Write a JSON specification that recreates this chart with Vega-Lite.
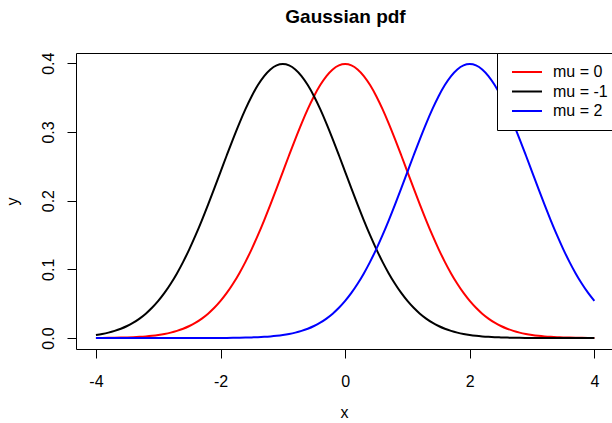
{
  "$schema": "https://vega.github.io/schema/vega-lite/v6.json",
  "autosize": {"type": "none"},
  "padding": {"left": 76, "top": 53, "right": 0, "bottom": 74},
  "width": 536,
  "height": 296,
  "background": "white",
  "title": {"text": "Gaussian pdf", "font": "Liberation Sans", "fontSize": 19, "fontWeight": "bold", "color": "black", "anchor": "middle", "baseline": "alphabetic", "offset": 10, "dx": 1.5},
  "data": {"values": [
    {"x": -4, "y": 0.000134, "s": "mu = 0"},
    {"x": -3.9, "y": 0.000199, "s": "mu = 0"},
    {"x": -3.8, "y": 0.000292, "s": "mu = 0"},
    {"x": -3.7, "y": 0.000425, "s": "mu = 0"},
    {"x": -3.6, "y": 0.000612, "s": "mu = 0"},
    {"x": -3.5, "y": 0.000873, "s": "mu = 0"},
    {"x": -3.4, "y": 0.001232, "s": "mu = 0"},
    {"x": -3.3, "y": 0.001723, "s": "mu = 0"},
    {"x": -3.2, "y": 0.002384, "s": "mu = 0"},
    {"x": -3.1, "y": 0.003267, "s": "mu = 0"},
    {"x": -3, "y": 0.004432, "s": "mu = 0"},
    {"x": -2.9, "y": 0.005953, "s": "mu = 0"},
    {"x": -2.8, "y": 0.007915, "s": "mu = 0"},
    {"x": -2.7, "y": 0.010421, "s": "mu = 0"},
    {"x": -2.6, "y": 0.013583, "s": "mu = 0"},
    {"x": -2.5, "y": 0.017528, "s": "mu = 0"},
    {"x": -2.4, "y": 0.022395, "s": "mu = 0"},
    {"x": -2.3, "y": 0.028327, "s": "mu = 0"},
    {"x": -2.2, "y": 0.035475, "s": "mu = 0"},
    {"x": -2.1, "y": 0.043984, "s": "mu = 0"},
    {"x": -2, "y": 0.053991, "s": "mu = 0"},
    {"x": -1.9, "y": 0.065616, "s": "mu = 0"},
    {"x": -1.8, "y": 0.07895, "s": "mu = 0"},
    {"x": -1.7, "y": 0.094049, "s": "mu = 0"},
    {"x": -1.6, "y": 0.110921, "s": "mu = 0"},
    {"x": -1.5, "y": 0.129518, "s": "mu = 0"},
    {"x": -1.4, "y": 0.149727, "s": "mu = 0"},
    {"x": -1.3, "y": 0.171369, "s": "mu = 0"},
    {"x": -1.2, "y": 0.194186, "s": "mu = 0"},
    {"x": -1.1, "y": 0.217852, "s": "mu = 0"},
    {"x": -1, "y": 0.241971, "s": "mu = 0"},
    {"x": -0.9, "y": 0.266085, "s": "mu = 0"},
    {"x": -0.8, "y": 0.289692, "s": "mu = 0"},
    {"x": -0.7, "y": 0.312254, "s": "mu = 0"},
    {"x": -0.6, "y": 0.333225, "s": "mu = 0"},
    {"x": -0.5, "y": 0.352065, "s": "mu = 0"},
    {"x": -0.4, "y": 0.36827, "s": "mu = 0"},
    {"x": -0.3, "y": 0.381388, "s": "mu = 0"},
    {"x": -0.2, "y": 0.391043, "s": "mu = 0"},
    {"x": -0.1, "y": 0.396953, "s": "mu = 0"},
    {"x": 0, "y": 0.398942, "s": "mu = 0"},
    {"x": 0.1, "y": 0.396953, "s": "mu = 0"},
    {"x": 0.2, "y": 0.391043, "s": "mu = 0"},
    {"x": 0.3, "y": 0.381388, "s": "mu = 0"},
    {"x": 0.4, "y": 0.36827, "s": "mu = 0"},
    {"x": 0.5, "y": 0.352065, "s": "mu = 0"},
    {"x": 0.6, "y": 0.333225, "s": "mu = 0"},
    {"x": 0.7, "y": 0.312254, "s": "mu = 0"},
    {"x": 0.8, "y": 0.289692, "s": "mu = 0"},
    {"x": 0.9, "y": 0.266085, "s": "mu = 0"},
    {"x": 1, "y": 0.241971, "s": "mu = 0"},
    {"x": 1.1, "y": 0.217852, "s": "mu = 0"},
    {"x": 1.2, "y": 0.194186, "s": "mu = 0"},
    {"x": 1.3, "y": 0.171369, "s": "mu = 0"},
    {"x": 1.4, "y": 0.149727, "s": "mu = 0"},
    {"x": 1.5, "y": 0.129518, "s": "mu = 0"},
    {"x": 1.6, "y": 0.110921, "s": "mu = 0"},
    {"x": 1.7, "y": 0.094049, "s": "mu = 0"},
    {"x": 1.8, "y": 0.07895, "s": "mu = 0"},
    {"x": 1.9, "y": 0.065616, "s": "mu = 0"},
    {"x": 2, "y": 0.053991, "s": "mu = 0"},
    {"x": 2.1, "y": 0.043984, "s": "mu = 0"},
    {"x": 2.2, "y": 0.035475, "s": "mu = 0"},
    {"x": 2.3, "y": 0.028327, "s": "mu = 0"},
    {"x": 2.4, "y": 0.022395, "s": "mu = 0"},
    {"x": 2.5, "y": 0.017528, "s": "mu = 0"},
    {"x": 2.6, "y": 0.013583, "s": "mu = 0"},
    {"x": 2.7, "y": 0.010421, "s": "mu = 0"},
    {"x": 2.8, "y": 0.007915, "s": "mu = 0"},
    {"x": 2.9, "y": 0.005953, "s": "mu = 0"},
    {"x": 3, "y": 0.004432, "s": "mu = 0"},
    {"x": 3.1, "y": 0.003267, "s": "mu = 0"},
    {"x": 3.2, "y": 0.002384, "s": "mu = 0"},
    {"x": 3.3, "y": 0.001723, "s": "mu = 0"},
    {"x": 3.4, "y": 0.001232, "s": "mu = 0"},
    {"x": 3.5, "y": 0.000873, "s": "mu = 0"},
    {"x": 3.6, "y": 0.000612, "s": "mu = 0"},
    {"x": 3.7, "y": 0.000425, "s": "mu = 0"},
    {"x": 3.8, "y": 0.000292, "s": "mu = 0"},
    {"x": 3.9, "y": 0.000199, "s": "mu = 0"},
    {"x": 4, "y": 0.000134, "s": "mu = 0"},

    {"x": -4, "y": 0.004432, "s": "mu = -1"},
    {"x": -3.9, "y": 0.005953, "s": "mu = -1"},
    {"x": -3.8, "y": 0.007915, "s": "mu = -1"},
    {"x": -3.7, "y": 0.010421, "s": "mu = -1"},
    {"x": -3.6, "y": 0.013583, "s": "mu = -1"},
    {"x": -3.5, "y": 0.017528, "s": "mu = -1"},
    {"x": -3.4, "y": 0.022395, "s": "mu = -1"},
    {"x": -3.3, "y": 0.028327, "s": "mu = -1"},
    {"x": -3.2, "y": 0.035475, "s": "mu = -1"},
    {"x": -3.1, "y": 0.043984, "s": "mu = -1"},
    {"x": -3, "y": 0.053991, "s": "mu = -1"},
    {"x": -2.9, "y": 0.065616, "s": "mu = -1"},
    {"x": -2.8, "y": 0.07895, "s": "mu = -1"},
    {"x": -2.7, "y": 0.094049, "s": "mu = -1"},
    {"x": -2.6, "y": 0.110921, "s": "mu = -1"},
    {"x": -2.5, "y": 0.129518, "s": "mu = -1"},
    {"x": -2.4, "y": 0.149727, "s": "mu = -1"},
    {"x": -2.3, "y": 0.171369, "s": "mu = -1"},
    {"x": -2.2, "y": 0.194186, "s": "mu = -1"},
    {"x": -2.1, "y": 0.217852, "s": "mu = -1"},
    {"x": -2, "y": 0.241971, "s": "mu = -1"},
    {"x": -1.9, "y": 0.266085, "s": "mu = -1"},
    {"x": -1.8, "y": 0.289692, "s": "mu = -1"},
    {"x": -1.7, "y": 0.312254, "s": "mu = -1"},
    {"x": -1.6, "y": 0.333225, "s": "mu = -1"},
    {"x": -1.5, "y": 0.352065, "s": "mu = -1"},
    {"x": -1.4, "y": 0.36827, "s": "mu = -1"},
    {"x": -1.3, "y": 0.381388, "s": "mu = -1"},
    {"x": -1.2, "y": 0.391043, "s": "mu = -1"},
    {"x": -1.1, "y": 0.396953, "s": "mu = -1"},
    {"x": -1, "y": 0.398942, "s": "mu = -1"},
    {"x": -0.9, "y": 0.396953, "s": "mu = -1"},
    {"x": -0.8, "y": 0.391043, "s": "mu = -1"},
    {"x": -0.7, "y": 0.381388, "s": "mu = -1"},
    {"x": -0.6, "y": 0.36827, "s": "mu = -1"},
    {"x": -0.5, "y": 0.352065, "s": "mu = -1"},
    {"x": -0.4, "y": 0.333225, "s": "mu = -1"},
    {"x": -0.3, "y": 0.312254, "s": "mu = -1"},
    {"x": -0.2, "y": 0.289692, "s": "mu = -1"},
    {"x": -0.1, "y": 0.266085, "s": "mu = -1"},
    {"x": 0, "y": 0.241971, "s": "mu = -1"},
    {"x": 0.1, "y": 0.217852, "s": "mu = -1"},
    {"x": 0.2, "y": 0.194186, "s": "mu = -1"},
    {"x": 0.3, "y": 0.171369, "s": "mu = -1"},
    {"x": 0.4, "y": 0.149727, "s": "mu = -1"},
    {"x": 0.5, "y": 0.129518, "s": "mu = -1"},
    {"x": 0.6, "y": 0.110921, "s": "mu = -1"},
    {"x": 0.7, "y": 0.094049, "s": "mu = -1"},
    {"x": 0.8, "y": 0.07895, "s": "mu = -1"},
    {"x": 0.9, "y": 0.065616, "s": "mu = -1"},
    {"x": 1, "y": 0.053991, "s": "mu = -1"},
    {"x": 1.1, "y": 0.043984, "s": "mu = -1"},
    {"x": 1.2, "y": 0.035475, "s": "mu = -1"},
    {"x": 1.3, "y": 0.028327, "s": "mu = -1"},
    {"x": 1.4, "y": 0.022395, "s": "mu = -1"},
    {"x": 1.5, "y": 0.017528, "s": "mu = -1"},
    {"x": 1.6, "y": 0.013583, "s": "mu = -1"},
    {"x": 1.7, "y": 0.010421, "s": "mu = -1"},
    {"x": 1.8, "y": 0.007915, "s": "mu = -1"},
    {"x": 1.9, "y": 0.005953, "s": "mu = -1"},
    {"x": 2, "y": 0.004432, "s": "mu = -1"},
    {"x": 2.1, "y": 0.003267, "s": "mu = -1"},
    {"x": 2.2, "y": 0.002384, "s": "mu = -1"},
    {"x": 2.3, "y": 0.001723, "s": "mu = -1"},
    {"x": 2.4, "y": 0.001232, "s": "mu = -1"},
    {"x": 2.5, "y": 0.000873, "s": "mu = -1"},
    {"x": 2.6, "y": 0.000612, "s": "mu = -1"},
    {"x": 2.7, "y": 0.000425, "s": "mu = -1"},
    {"x": 2.8, "y": 0.000292, "s": "mu = -1"},
    {"x": 2.9, "y": 0.000199, "s": "mu = -1"},
    {"x": 3, "y": 0.000134, "s": "mu = -1"},
    {"x": 3.1, "y": 0.000089, "s": "mu = -1"},
    {"x": 3.2, "y": 0.000059, "s": "mu = -1"},
    {"x": 3.3, "y": 0.000039, "s": "mu = -1"},
    {"x": 3.4, "y": 0.000025, "s": "mu = -1"},
    {"x": 3.5, "y": 0.000016, "s": "mu = -1"},
    {"x": 3.6, "y": 0.00001, "s": "mu = -1"},
    {"x": 3.7, "y": 0.000006, "s": "mu = -1"},
    {"x": 3.8, "y": 0.000004, "s": "mu = -1"},
    {"x": 3.9, "y": 0.000002, "s": "mu = -1"},
    {"x": 4, "y": 0.000001, "s": "mu = -1"},

    {"x": -4, "y": 0, "s": "mu = 2"},
    {"x": -3.9, "y": 0, "s": "mu = 2"},
    {"x": -3.8, "y": 0, "s": "mu = 2"},
    {"x": -3.7, "y": 0, "s": "mu = 2"},
    {"x": -3.6, "y": 0, "s": "mu = 2"},
    {"x": -3.5, "y": 0, "s": "mu = 2"},
    {"x": -3.4, "y": 0, "s": "mu = 2"},
    {"x": -3.3, "y": 0, "s": "mu = 2"},
    {"x": -3.2, "y": 0, "s": "mu = 2"},
    {"x": -3.1, "y": 0, "s": "mu = 2"},
    {"x": -3, "y": 0.000001, "s": "mu = 2"},
    {"x": -2.9, "y": 0.000002, "s": "mu = 2"},
    {"x": -2.8, "y": 0.000004, "s": "mu = 2"},
    {"x": -2.7, "y": 0.000006, "s": "mu = 2"},
    {"x": -2.6, "y": 0.00001, "s": "mu = 2"},
    {"x": -2.5, "y": 0.000016, "s": "mu = 2"},
    {"x": -2.4, "y": 0.000025, "s": "mu = 2"},
    {"x": -2.3, "y": 0.000039, "s": "mu = 2"},
    {"x": -2.2, "y": 0.000059, "s": "mu = 2"},
    {"x": -2.1, "y": 0.000089, "s": "mu = 2"},
    {"x": -2, "y": 0.000134, "s": "mu = 2"},
    {"x": -1.9, "y": 0.000199, "s": "mu = 2"},
    {"x": -1.8, "y": 0.000292, "s": "mu = 2"},
    {"x": -1.7, "y": 0.000425, "s": "mu = 2"},
    {"x": -1.6, "y": 0.000612, "s": "mu = 2"},
    {"x": -1.5, "y": 0.000873, "s": "mu = 2"},
    {"x": -1.4, "y": 0.001232, "s": "mu = 2"},
    {"x": -1.3, "y": 0.001723, "s": "mu = 2"},
    {"x": -1.2, "y": 0.002384, "s": "mu = 2"},
    {"x": -1.1, "y": 0.003267, "s": "mu = 2"},
    {"x": -1, "y": 0.004432, "s": "mu = 2"},
    {"x": -0.9, "y": 0.005953, "s": "mu = 2"},
    {"x": -0.8, "y": 0.007915, "s": "mu = 2"},
    {"x": -0.7, "y": 0.010421, "s": "mu = 2"},
    {"x": -0.6, "y": 0.013583, "s": "mu = 2"},
    {"x": -0.5, "y": 0.017528, "s": "mu = 2"},
    {"x": -0.4, "y": 0.022395, "s": "mu = 2"},
    {"x": -0.3, "y": 0.028327, "s": "mu = 2"},
    {"x": -0.2, "y": 0.035475, "s": "mu = 2"},
    {"x": -0.1, "y": 0.043984, "s": "mu = 2"},
    {"x": 0, "y": 0.053991, "s": "mu = 2"},
    {"x": 0.1, "y": 0.065616, "s": "mu = 2"},
    {"x": 0.2, "y": 0.07895, "s": "mu = 2"},
    {"x": 0.3, "y": 0.094049, "s": "mu = 2"},
    {"x": 0.4, "y": 0.110921, "s": "mu = 2"},
    {"x": 0.5, "y": 0.129518, "s": "mu = 2"},
    {"x": 0.6, "y": 0.149727, "s": "mu = 2"},
    {"x": 0.7, "y": 0.171369, "s": "mu = 2"},
    {"x": 0.8, "y": 0.194186, "s": "mu = 2"},
    {"x": 0.9, "y": 0.217852, "s": "mu = 2"},
    {"x": 1, "y": 0.241971, "s": "mu = 2"},
    {"x": 1.1, "y": 0.266085, "s": "mu = 2"},
    {"x": 1.2, "y": 0.289692, "s": "mu = 2"},
    {"x": 1.3, "y": 0.312254, "s": "mu = 2"},
    {"x": 1.4, "y": 0.333225, "s": "mu = 2"},
    {"x": 1.5, "y": 0.352065, "s": "mu = 2"},
    {"x": 1.6, "y": 0.36827, "s": "mu = 2"},
    {"x": 1.7, "y": 0.381388, "s": "mu = 2"},
    {"x": 1.8, "y": 0.391043, "s": "mu = 2"},
    {"x": 1.9, "y": 0.396953, "s": "mu = 2"},
    {"x": 2, "y": 0.398942, "s": "mu = 2"},
    {"x": 2.1, "y": 0.396953, "s": "mu = 2"},
    {"x": 2.2, "y": 0.391043, "s": "mu = 2"},
    {"x": 2.3, "y": 0.381388, "s": "mu = 2"},
    {"x": 2.4, "y": 0.36827, "s": "mu = 2"},
    {"x": 2.5, "y": 0.352065, "s": "mu = 2"},
    {"x": 2.6, "y": 0.333225, "s": "mu = 2"},
    {"x": 2.7, "y": 0.312254, "s": "mu = 2"},
    {"x": 2.8, "y": 0.289692, "s": "mu = 2"},
    {"x": 2.9, "y": 0.266085, "s": "mu = 2"},
    {"x": 3, "y": 0.241971, "s": "mu = 2"},
    {"x": 3.1, "y": 0.217852, "s": "mu = 2"},
    {"x": 3.2, "y": 0.194186, "s": "mu = 2"},
    {"x": 3.3, "y": 0.171369, "s": "mu = 2"},
    {"x": 3.4, "y": 0.149727, "s": "mu = 2"},
    {"x": 3.5, "y": 0.129518, "s": "mu = 2"},
    {"x": 3.6, "y": 0.110921, "s": "mu = 2"},
    {"x": 3.7, "y": 0.094049, "s": "mu = 2"},
    {"x": 3.8, "y": 0.07895, "s": "mu = 2"},
    {"x": 3.9, "y": 0.065616, "s": "mu = 2"},
    {"x": 4, "y": 0.053991, "s": "mu = 2"}
  ]},
  "mark": {"type": "line", "strokeWidth": 2, "interpolate": "monotone", "clip": true},
  "encoding": {
    "x": {
      "field": "x", "type": "quantitative",
      "scale": {"domain": [-4.32, 4.283], "nice": false, "zero": false},
      "axis": {"values": [-4, -2, 0, 2, 4], "labelExpr": "replace(datum.label, '\u2212', '-')", "title": "x", "labelPadding": 15, "labelFlush": false, "labelOverlap": false, "titleBaseline": "alphabetic", "titleY": 68, "titleAnchor": "middle"}
    },
    "y": {
      "field": "y", "type": "quantitative",
      "scale": {"domain": [-0.01596, 0.4149], "nice": false, "zero": false},
      "axis": {"values": [0, 0.1, 0.2, 0.3, 0.4], "format": ".1f", "title": "y", "labelAngle": -90, "labelAlign": "center", "labelBaseline": "alphabetic", "labelPadding": 14, "labelFlush": false, "labelOverlap": false, "titleAngle": -90, "titleAlign": "center", "titleBaseline": "alphabetic", "titleX": -59, "titleY": 148}
    },
    "color": {
      "field": "s", "type": "nominal",
      "scale": {"domain": ["mu = 0", "mu = -1", "mu = 2"], "range": ["#FF0000", "#000000", "#0000FF"]},
      "legend": {"title": null, "orient": "none", "legendX": 421, "legendY": 0}
    }
  },
  "config": {
    "view": {"stroke": "black", "strokeWidth": 1},
    "font": "Liberation Sans",
    "axis": {"domain": false, "grid": false, "tickColor": "black", "tickSize": 9, "tickWidth": 1, "labelColor": "black", "labelFont": "Liberation Sans", "labelFontSize": 16, "titleFont": "Liberation Sans", "titleFontSize": 16, "titleFontWeight": "normal", "titleColor": "black"},
    "legend": {"strokeColor": "black", "fillColor": "white", "padding": 11, "cornerRadius": 0, "labelFont": "Liberation Sans", "labelFontSize": 16, "labelColor": "black", "symbolType": "M-6,0H6", "symbolSize": 25, "symbolStrokeWidth": 2, "symbolOffset": 11, "labelOffset": 18, "rowPadding": 3.5, "labelLimit": 300}
  }
}
